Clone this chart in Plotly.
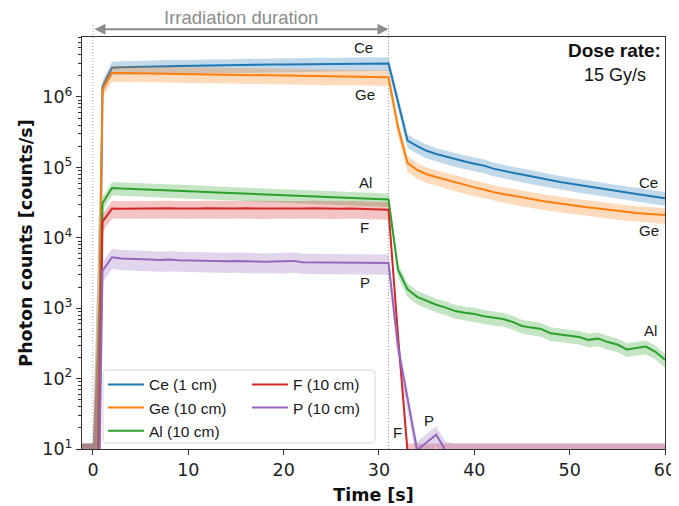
import numpy as np
import plotly.graph_objects as go

# ---------------- data ----------------
TIME = [-2, -1, 0, 1, 2, 3, 4, 5, 6, 7, 8, 9, 10, 11, 12, 13, 14, 15, 16, 17, 18, 19, 20,
        21, 22, 23, 24, 25, 26, 27, 28, 29, 30, 31, 32, 33, 34, 35, 36, 37, 38, 39, 40,
        41, 42, 43, 44, 45, 46, 47, 48, 49, 50, 51, 52, 53, 54, 55, 56, 57, 58, 59, 60]

CE = [0, 0, 0, 1.4e6, 2.60e6, 2.64e6, 2.67e6, 2.69e6, 2.71e6, 2.72e6, 2.74e6, 2.75e6, 2.77e6,
      2.78e6, 2.79e6, 2.81e6, 2.82e6, 2.84e6, 2.85e6, 2.86e6, 2.87e6, 2.89e6, 2.90e6,
      2.91e6, 2.92e6, 2.93e6, 2.94e6, 2.95e6, 2.96e6, 2.97e6, 2.98e6, 2.99e6, 3.00e6, 3.00e6,
      8.5e5, 2.4e5, 2.0e5, 1.72e5, 1.55e5, 1.42e5, 1.30e5, 1.21e5, 1.13e5,
      1.06e5, 9.6e4, 8.9e4, 8.4e4, 7.9e4, 7.4e4, 7.0e4, 6.6e4, 6.2e4, 5.9e4,
      5.6e4, 5.35e4, 5.1e4, 4.85e4, 4.6e4, 4.4e4, 4.2e4, 4.0e4, 3.8e4, 3.65e4]

GE = [0, 0, 0, 1.3e6, 2.20e6, 2.20e6, 2.19e6, 2.18e6, 2.17e6, 2.16e6, 2.15e6, 2.14e6, 2.13e6,
      2.12e6, 2.11e6, 2.10e6, 2.09e6, 2.08e6, 2.07e6, 2.06e6, 2.05e6, 2.04e6, 2.03e6,
      2.02e6, 2.01e6, 2.00e6, 1.99e6, 1.98e6, 1.97e6, 1.96e6, 1.95e6, 1.93e6, 1.92e6, 1.90e6,
      3.7e5, 1.15e5, 9.2e4, 8.0e4, 7.3e4, 6.7e4, 6.1e4, 5.6e4, 5.2e4,
      4.85e4, 4.45e4, 4.2e4, 3.95e4, 3.7e4, 3.5e4, 3.35e4, 3.2e4, 3.05e4, 2.9e4,
      2.8e4, 2.7e4, 2.6e4, 2.5e4, 2.4e4, 2.3e4, 2.25e4, 2.2e4, 2.15e4, 2.1e4]

AL = [0, 0, 0, 3.1e4, 5.1e4, 5.0e4, 4.95e4, 4.9e4, 4.85e4, 4.8e4, 4.75e4, 4.7e4, 4.62e4,
      4.55e4, 4.48e4, 4.4e4, 4.35e4, 4.3e4, 4.25e4, 4.2e4, 4.12e4, 4.05e4, 4.0e4,
      3.95e4, 3.9e4, 3.85e4, 3.82e4, 3.8e4, 3.75e4, 3.7e4, 3.65e4, 3.6e4, 3.55e4, 3.5e4,
      3.5e3, 1.85e3, 1.45e3, 1.27e3, 1.12e3, 1.02e3, 9.1e2, 8.6e2, 8.3e2,
      7.7e2, 7.3e2, 7.0e2, 6.4e2, 5.6e2, 5.3e2, 5.05e2, 4.4e2, 4.25e2, 4.05e2,
      3.9e2, 3.55e2, 3.7e2, 3.3e2, 3.05e2, 2.6e2, 2.7e2, 2.85e2, 2.4e2, 1.85e2]

F = [0, 0, 0, 1.7e4, 2.6e4, 2.58e4, 2.6e4, 2.57e4, 2.58e4, 2.6e4, 2.62e4, 2.6e4, 2.58e4,
     2.6e4, 2.63e4, 2.6e4, 2.58e4, 2.6e4, 2.62e4, 2.6e4, 2.57e4, 2.6e4, 2.6e4,
     2.58e4, 2.6e4, 2.62e4, 2.6e4, 2.57e4, 2.58e4, 2.6e4, 2.58e4, 2.55e4, 2.55e4, 2.5e4,
     4.0e2, 9, 0, 0, 0, 0, 0, 0, 0,
     0, 0, 0, 0, 0, 0, 0, 0, 0, 0,
     0, 0, 0, 0, 0, 0, 0, 0, 0, 0]

P = [0, 0, 0, 3.4e3, 5.3e3, 5.1e3, 5.0e3, 4.9e3, 4.9e3, 4.85e3, 4.9e3, 4.8e3, 4.75e3,
     4.7e3, 4.75e3, 4.7e3, 4.65e3, 4.7e3, 4.6e3, 4.6e3, 4.55e3, 4.6e3, 4.55e3,
     4.7e3, 4.5e3, 4.5e3, 4.45e3, 4.5e3, 4.4e3, 4.45e3, 4.4e3, 4.5e3, 4.4e3, 4.4e3,
     2.8e2, 5.0e1, 9.5, 12.5, 16, 9.5, 0, 0, 0,
     0, 0, 0, 0, 0, 0, 0, 0, 0, 0,
     0, 0, 0, 0, 0, 0, 0, 0, 0, 0]

NAMES = ["Ce (1 cm)", "Ge (10 cm)", "Al (10 cm)", "F (10 cm)", "P (10 cm)"]
REL_ERR = [0.22, 0.25, 0.22, 0.28, 0.32]   # relative uncertainty of each series
BAND_FLOOR = 12                            # background-level upper uncertainty (counts/s)

Y_TICKS = [1e1, 1e2, 1e3, 1e4, 1e5, 1e6]
Y_TICK_TEXT = ["10<sup>1</sup>", "10<sup>2</sup>", "10<sup>3</sup>",
               "10<sup>4</sup>", "10<sup>5</sup>", "10<sup>6</sup>"]
X_TICKS = [0, 10, 20, 30, 40, 50, 60]
IRR_START, IRR_END = 0, 31

# ---------------- styling ----------------
COLORS = ["#1f77b4", "#ff7f0e", "#2ca02c", "#d62728", "#9467bd"]
LEGEND_OF = ["legend", "legend", "legend", "legend2", "legend2"]
CLIP = 1e-5   # stand-in for zero on a log axis (like matplotlib's clipping)


def rgba(hexc, a):
    h = hexc.lstrip("#")
    return "rgba(%d,%d,%d,%.2f)" % (int(h[0:2], 16), int(h[2:4], 16), int(h[4:6], 16), a)


fig = go.Figure()
for name, vals, color, rel, lg in zip(NAMES, [CE, GE, AL, F, P], COLORS, REL_ERR, LEGEND_OF):
    v = np.array(vals, dtype=float)
    upper = np.maximum(v * (1 + rel), BAND_FLOOR)
    lower = v * (1 - rel)
    lower = np.where(lower > 0, lower, CLIP)
    line_y = np.where(v > 0, v, CLIP)
    fig.add_trace(go.Scatter(
        x=TIME + TIME[::-1], y=list(upper) + list(lower[::-1]),
        mode="lines", fill="toself", fillcolor=rgba(color, 0.28),
        line=dict(width=0, color=rgba(color, 0)), showlegend=False, hoverinfo="skip"))
    fig.add_trace(go.Scatter(
        x=TIME, y=line_y, mode="lines", name=name, legend=lg,
        line=dict(color=color, width=2), hoverinfo="skip"))

# dotted irradiation boundaries
for xv in (IRR_START, IRR_END):
    fig.add_shape(type="line", xref="x", yref="paper", x0=xv, x1=xv, y0=0, y1=1.034,
                  line=dict(color="#9a9a9a", width=1, dash="1px,2px"), layer="below")

# legend frame (rounded)
x0, x1, y0, y1 = 0.036, 0.5026, 0.0146, 0.1917
rx, ry = 0.0069, 0.0097
path = (f"M {x0+rx},{y0} L {x1-rx},{y0} Q {x1},{y0} {x1},{y0+ry} L {x1},{y1-ry} "
        f"Q {x1},{y1} {x1-rx},{y1} L {x0+rx},{y1} Q {x0},{y1} {x0},{y1-ry} "
        f"L {x0},{y0+ry} Q {x0},{y0} {x0+rx},{y0} Z")
fig.add_shape(type="path", xref="paper", yref="paper", path=path,
              fillcolor="rgba(255,255,255,0.8)", line=dict(color="#d6d6d6", width=1),
              layer="above")

LBL = dict(family="Liberation Sans, Arial, sans-serif", size=15, color="#1a1a1a")
labels = [("Ce", 28.4, 6.70), ("Ge", 28.5, 6.03), ("Al", 28.6, 4.79), ("F", 28.5, 4.14),
          ("P", 28.5, 3.37), ("Ce", 58.3, 4.79), ("Ge", 58.3, 4.10), ("Al", 58.5, 2.68),
          ("F", 31.9, 1.23), ("P", 35.2, 1.40)]
for txt, lx, ly in labels:
    fig.add_annotation(x=lx, y=ly, xref="x", yref="y", text=txt, showarrow=False,
                       font=LBL, xanchor="center", yanchor="middle")

# irradiation duration arrow + text
fig.add_annotation(x=IRR_END, y=1.019, xref="x", yref="paper", ax=IRR_START, ay=0,
                   axref="x", ayref="pixel", showarrow=True, arrowside="end+start",
                   arrowhead=2, arrowsize=1.1, arrowwidth=2, arrowcolor="#8c8c8c",
                   standoff=0, startstandoff=0, text="")
fig.add_annotation(x=(IRR_START + IRR_END) / 2, y=1.047, xref="x", yref="paper",
                   text="Irradiation duration", showarrow=False,
                   font=dict(family="Liberation Sans, Arial, sans-serif", size=18.5,
                             color="#8c8c8c"),
                   xanchor="center", yanchor="middle")

fig.add_annotation(x=0.914, y=0.967, xref="paper", yref="paper", text="<b>Dose rate:</b>",
                   showarrow=False, xanchor="center", yanchor="middle",
                   font=dict(family="Liberation Sans, Arial, sans-serif", size=19, color="#111"))
fig.add_annotation(x=0.914, y=0.908, xref="paper", yref="paper", text="15 Gy/s",
                   showarrow=False, xanchor="center", yanchor="middle",
                   font=dict(family="Liberation Sans, Arial, sans-serif", size=18, color="#111"))

AX_FONT = dict(family="DejaVu Sans, sans-serif", size=17.5, color="#222")
TITLE_FONT = dict(family="DejaVu Sans, sans-serif", size=17.5, color="#111")

minor_vals = [m * 10 ** k for k in range(1, 7) for m in range(2, 10)]

LEG_FONT = dict(family="Liberation Sans, Arial, sans-serif", size=15.5, color="#1a1a1a")
# the page body adds an 8px offset; the figure size/margins compensate for it
fig.update_layout(
    width=671, height=498,
    margin=dict(l=74, r=14, t=29, b=57),
    paper_bgcolor="white", plot_bgcolor="white",
    showlegend=True,
    legend=dict(x=0.036, y=0.197, xanchor="left", yanchor="top", bgcolor="rgba(0,0,0,0)",
                borderwidth=0, font=LEG_FONT, itemwidth=36, tracegroupgap=0),
    legend2=dict(x=0.283, y=0.197, xanchor="left", yanchor="top", bgcolor="rgba(0,0,0,0)",
                 borderwidth=0, font=LEG_FONT, itemwidth=36, tracegroupgap=0),
    xaxis=dict(range=[-1.15, 60], tickmode="array", tickvals=X_TICKS, automargin=False,
               ticks="outside", ticklen=5, tickwidth=1.2, tickcolor="#333",
               showline=True, linecolor="#333", linewidth=1.3, mirror=True,
               showgrid=False, zeroline=False, tickfont=AX_FONT,
               title=dict(text="<b>Time [s]</b>", font=TITLE_FONT, standoff=9)),
    yaxis=dict(type="log", range=[1, 6.852], tickmode="array", tickvals=Y_TICKS,
               ticktext=Y_TICK_TEXT, ticks="outside", ticklen=5, tickwidth=1.2,
               automargin=False,
               tickcolor="#333", showline=True, linecolor="#333", linewidth=1.3,
               mirror=True, showgrid=False, zeroline=False, tickfont=AX_FONT,
               minor=dict(tickmode="array", tickvals=minor_vals, ticks="outside",
                          ticklen=3, tickwidth=1, tickcolor="#333", showgrid=False),
               title=dict(text="<b>Photon counts [counts/s]</b>", font=TITLE_FONT,
                          standoff=5)),
)

fig.write_html("out.html")
